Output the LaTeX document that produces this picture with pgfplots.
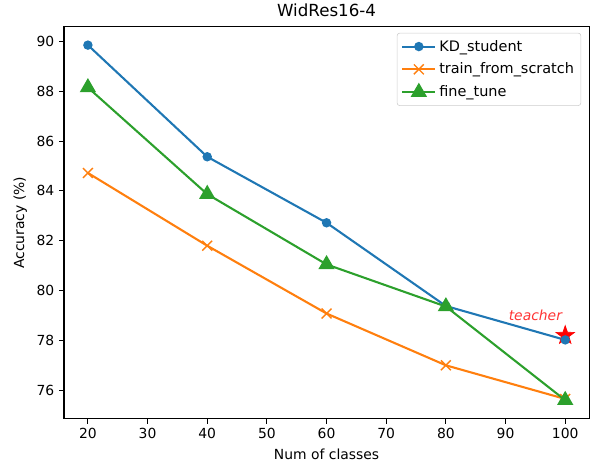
\documentclass[border=0pt]{standalone}
\usepackage{fontspec}
\setmainfont{DejaVu Sans}
\usepackage{pgfplots}
\pgfplotsset{compat=1.18}
\definecolor{tabblue}{HTML}{1F77B4}
\definecolor{taborange}{HTML}{FF7F0E}
\definecolor{tabgreen}{HTML}{2CA02C}
\pgfdeclareplotmark{fstar}{%
  \pgfpathmoveto{\pgfpointpolar{90}{\pgfplotmarksize}}%
  \pgfpathlineto{\pgfpointpolar{126}{0.4\pgfplotmarksize}}%
  \pgfpathlineto{\pgfpointpolar{162}{\pgfplotmarksize}}%
  \pgfpathlineto{\pgfpointpolar{198}{0.4\pgfplotmarksize}}%
  \pgfpathlineto{\pgfpointpolar{234}{\pgfplotmarksize}}%
  \pgfpathlineto{\pgfpointpolar{270}{0.4\pgfplotmarksize}}%
  \pgfpathlineto{\pgfpointpolar{306}{\pgfplotmarksize}}%
  \pgfpathlineto{\pgfpointpolar{342}{0.4\pgfplotmarksize}}%
  \pgfpathlineto{\pgfpointpolar{18}{\pgfplotmarksize}}%
  \pgfpathlineto{\pgfpointpolar{54}{0.4\pgfplotmarksize}}%
  \pgfpathclose
  \pgfusepathqfillstroke}
\begin{document}
\begin{tikzpicture}
\begin{axis}[
  scale only axis,
  width=378pt, height=282pt,
  xmin=16, xmax=104,
  ymin=74.86, ymax=90.58,
  xtick={20,30,...,100},
  ytick={76,78,...,90},
  tick align=outside,
  tick pos=left,
  major tick length=3.5pt,
  every tick/.style={black, line width=0.8pt},
  axis line style={line width=0.8pt},
  /pgf/number format/assume math mode=true,
  ticklabel style={font=\fontsize{10}{12}\selectfont},
  label style={font=\fontsize{10}{12}\selectfont},
  title={\fontsize{12}{14.4}\selectfont WidRes16-4},
  title style={yshift=-2.5pt},
  xlabel={Num of classes},
  ylabel={Accuracy (\%)},
  legend style={at={(rel axis cs:0.985,0.985)}, anchor=north east,
    font=\fontsize{10.4}{12.4}\selectfont, draw=black!20, rounded corners=2pt,
    row sep=3pt, inner sep=3pt},
  legend cell align=left,
  legend image code/.code={\draw[mark repeat=2,mark phase=2] plot coordinates {(0cm,0cm) (0.42cm,0cm) (0.84cm,0cm)};},
]
\addplot[red, only marks, mark=fstar, mark size=7pt, line width=0.5pt, forget plot]
  coordinates {(100,78.2)};
\addplot[tabblue, line width=1.5pt, mark=*, mark size=2.6pt]
  coordinates {(20,89.85) (40,85.37) (60,82.72) (80,79.38) (100,78.02)};
\addlegendentry{KD\_student}
\addplot[taborange, line width=1.5pt, mark=x, mark size=5pt, mark options={line width=1pt}]
  coordinates {(20,84.72) (40,81.8) (60,79.08) (80,77.0) (100,75.65)};
\addlegendentry{train\_from\_scratch}
\addplot[tabgreen, line width=1.5pt, mark=triangle*, mark size=5.3pt, mark options={solid}]
  coordinates {(20,88.15) (40,83.87) (60,81.05) (80,79.36) (100,75.6)};
\addlegendentry{fine\_tune}
\node[red!80, font=\itshape\fontsize{10}{12}\selectfont] at (axis cs:95.0,79.0) {teacher};
\end{axis}
\pgfresetboundingbox
\useasboundingbox (current axis.south west) ++(-46.1pt,-34.6pt) rectangle ([shift={(2.1pt,19.4pt)}]current axis.north east);
\end{tikzpicture}
\end{document}
